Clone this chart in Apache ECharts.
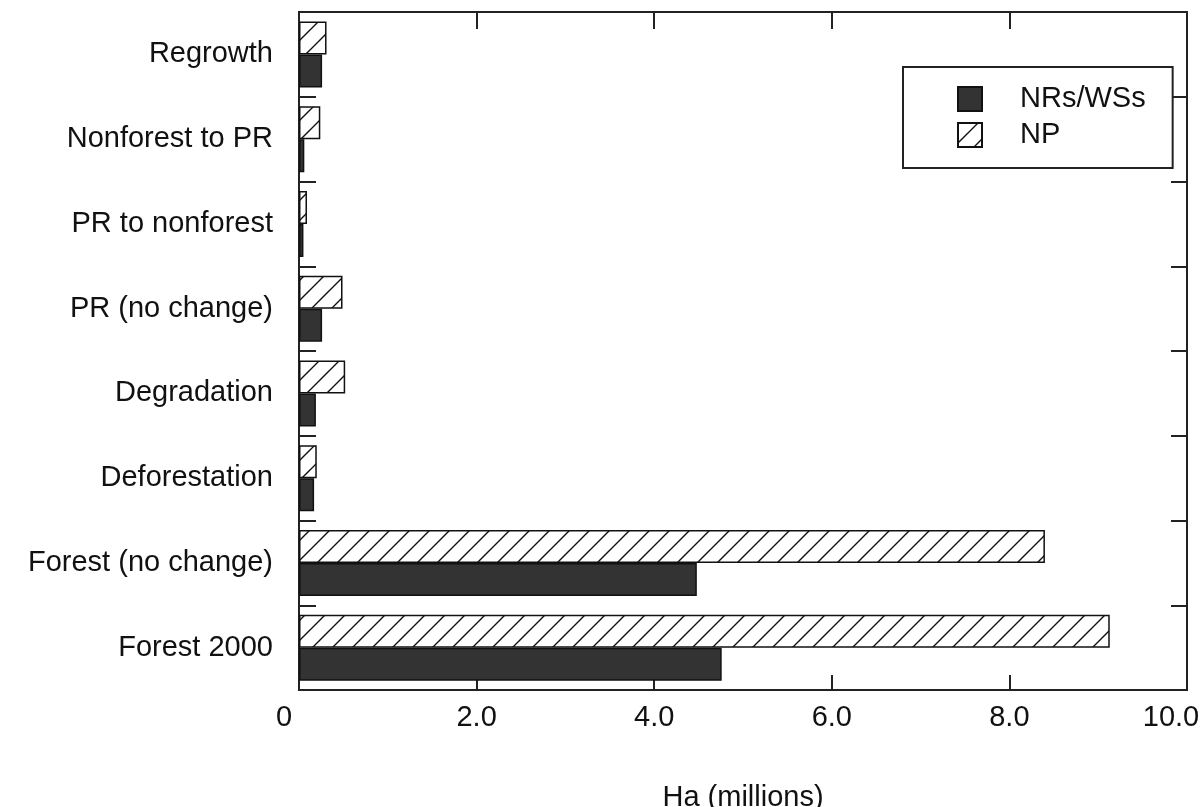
<!DOCTYPE html>
<html>
<head>
<meta charset="utf-8">
<script src="https://cdn.jsdelivr.net/npm/echarts@6/dist/echarts.min.js"></script>
<style>
html,body{margin:0;padding:0;background:#fff;}
#chart{width:1203px;height:807px;}
</style>
</head>
<body>
<div id="chart"></div>
<script>
const categories = ['Regrowth','Nonforest to PR','PR to nonforest','PR (no change)','Degradation','Deforestation','Forest (no change)','Forest 2000'];
const npValues   = [0.31, 0.24, 0.09, 0.49, 0.52, 0.20, 8.40, 9.13];
const nrsValues  = [0.26, 0.06, 0.05, 0.26, 0.19, 0.17, 4.48, 4.76];
const xTicks = [0, 2, 4, 6, 8, 10];
const seriesNames = ['NRs/WSs', 'NP'];
const axisTitle = 'Ha (millions)';

function hatch() {
  const c = document.createElement('canvas');
  c.width = 20; c.height = 20;
  const g = c.getContext('2d');
  g.fillStyle = '#fff'; g.fillRect(0,0,20,20);
  g.strokeStyle = '#111'; g.lineWidth = 1.4;
  g.beginPath();
  g.moveTo(0,20); g.lineTo(20,0);
  g.moveTo(-5,5); g.lineTo(5,-5);
  g.moveTo(15,25); g.lineTo(25,15);
  g.stroke();
  return c;
}

const font = 'Liberation Sans, Arial, sans-serif';
const tickStyle = { color: '#222', width: 2 };
const xMin = xTicks[0], xMax = xTicks[xTicks.length - 1];
const chart = echarts.init(document.getElementById('chart'));
chart.setOption({
  animation: false,
  backgroundColor: '#fff',
  textStyle: { fontFamily: font },
  grid: { left: 299, right: 16, top: 12, bottom: 117, show: true, borderColor: '#222', borderWidth: 2, backgroundColor: 'transparent', outerBoundsMode: 'none', containLabel: false },
  legend: {
    data: seriesNames,
    orient: 'vertical',
    left: 903, top: 67,
    padding: [17, 27, 18, 54],
    itemGap: 6,
    itemWidth: 24, itemHeight: 24,
    icon: 'rect',
    borderColor: '#222', borderWidth: 2,
    backgroundColor: '#fff',
    textStyle: { fontSize: 29, lineHeight: 30, color: '#111', fontFamily: font, padding: [0, 0, 0, 33] }
  },
  xAxis: [
    {
      type: 'value', position: 'bottom', min: xMin, max: xMax, interval: 2,
      axisLine: { show: false, onZero: false },
      axisTick: { show: true, inside: true, length: 15, lineStyle: tickStyle },
      splitLine: { show: false },
      axisLabel: {
        fontSize: 29, color: '#111', margin: 13, fontFamily: font,
        formatter: v => v === xMin ? '{z|' + v + '}' : (v === xMax ? '{m|' + v.toFixed(1) + '}' : v.toFixed(1)),
        rich: {
          z: { fontSize: 29, color: '#111', fontFamily: font, padding: [0, 30, 0, 0] },
          m: { fontSize: 29, color: '#111', fontFamily: font, padding: [0, 32, 0, 0] }
        }
      },
      name: axisTitle, nameLocation: 'middle', nameGap: 93,
      nameTextStyle: { fontSize: 29, color: '#111', fontFamily: font }
    },
    {
      type: 'value', position: 'top', min: xMin, max: xMax, interval: 2,
      axisLine: { show: false, onZero: false },
      axisTick: { show: true, inside: true, length: 17, lineStyle: tickStyle },
      splitLine: { show: false },
      axisLabel: { show: false }
    }
  ],
  yAxis: [
    {
      type: 'category', data: categories, inverse: true, position: 'left',
      axisLine: { show: false, onZero: false },
      axisTick: { show: true, inside: true, length: 17, lineStyle: tickStyle },
      axisLabel: { fontSize: 29, color: '#111', margin: 26, fontFamily: font }
    },
    {
      type: 'category', data: categories, inverse: true, position: 'right',
      axisLine: { show: false, onZero: false },
      axisTick: { show: true, inside: true, length: 16, lineStyle: tickStyle },
      axisLabel: { show: false }
    }
  ],
  series: [
    {
      name: seriesNames[1], type: 'bar', data: npValues, barWidth: 33, barGap: '0%',
      itemStyle: { color: { image: hatch(), repeat: 'repeat' }, borderColor: '#111', borderWidth: 1.5 }
    },
    {
      name: seriesNames[0], type: 'bar', data: nrsValues, barWidth: 33, barGap: '0%',
      itemStyle: { color: '#333', borderColor: '#111', borderWidth: 1.5 }
    }
  ]
});
</script>
</body>
</html>
